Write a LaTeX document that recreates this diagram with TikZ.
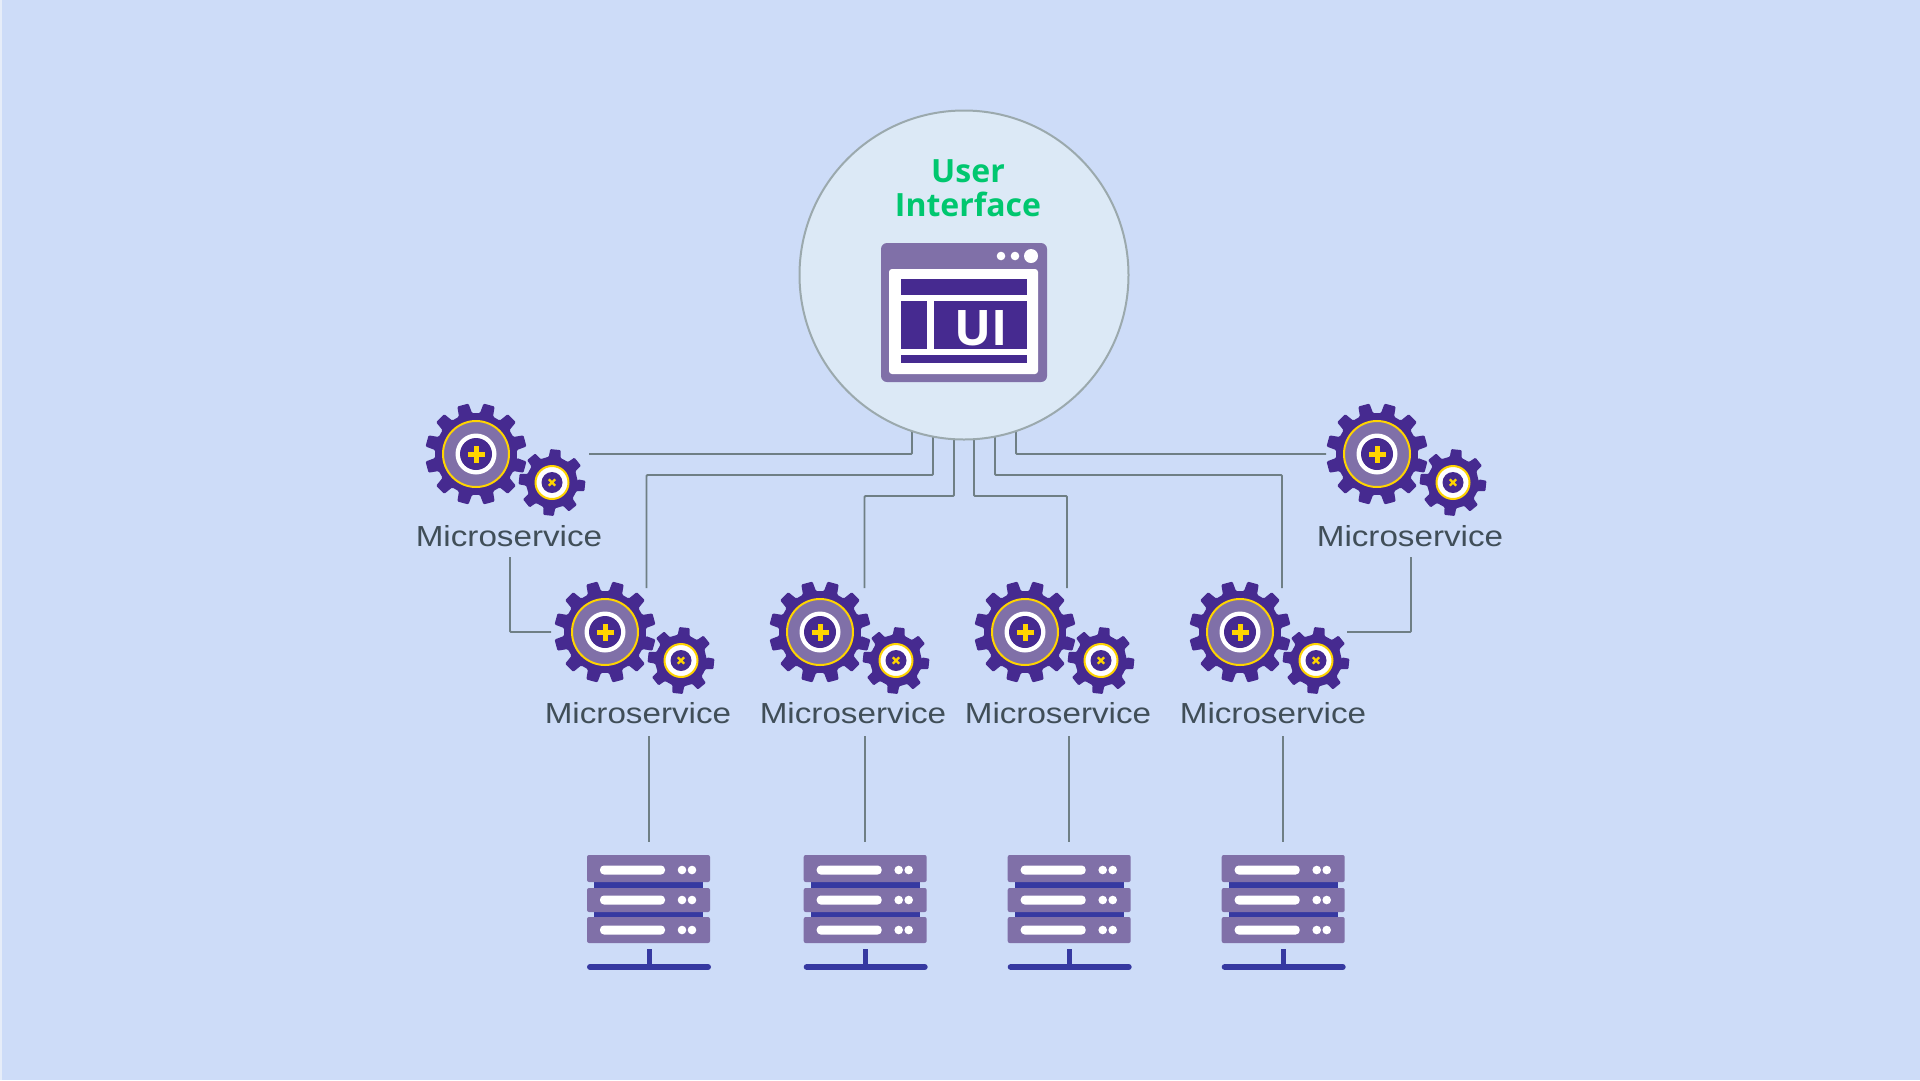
\documentclass[tikz,border=0pt]{standalone}
\usepackage{fontspec}
\usetikzlibrary{calc,backgrounds}
\newfontfamily\titlefont{Open Sans}
\newfontfamily\labelfont[FakeStretch=1.145]{Liberation Sans}
\definecolor{pagebg}{HTML}{CDDCF8}
\definecolor{edgebg}{HTML}{E6EDF9}
\definecolor{discbg}{HTML}{DCE9F6}
\definecolor{discline}{HTML}{9BA9AD}
\definecolor{wirecol}{HTML}{6F7F85}
\definecolor{deep}{HTML}{462A90}
\definecolor{muted}{HTML}{8070A8}
\definecolor{sun}{HTML}{FFD400}
\definecolor{mint}{HTML}{00C76F}
\definecolor{ink}{HTML}{404E58}
\definecolor{railblue}{HTML}{2F3FA8}
\tikzset{
  wire/.style={draw=wirecol,line width=1.8pt,rounded corners=1pt},
  mslabel/.style={font=\labelfont\fontsize{29}{29}\selectfont,text=ink,anchor=base,inner sep=0pt},
}
\newcommand{\gearpair}[3]{%
  \begin{scope}[shift={(#2,#3)}]
    \fill[deep,rounded corners=1.2pt] (6:41)
      \foreach \a in {15,45,...,345} { -- (\a-9.5:41) -- (\a-6.5:51) -- (\a+6.5:51) -- (\a+9.5:41) } -- cycle;
    \fill[muted,draw=sun,line width=2pt] (0,0) circle (33);
    \fill[white] (0,0) circle (20.5);
    \fill[deep] (0,0) circle (16);
    \fill[sun] (-8.5,-2.5) rectangle (8.5,2.5);
    \fill[sun] (-2.5,-8.5) rectangle (2.5,8.5);
    \begin{scope}[shift={(76,28.5)}]
      \fill[deep,rounded corners=1pt] (0:26)
        \foreach \a in {6,51,...,321} { -- (\a-13:26) -- (\a-9:33.5) -- (\a+9:33.5) -- (\a+13:26) } -- cycle;
      \fill[white,draw=sun,line width=2pt] (0,0) circle (16.5);
      \fill[deep] (0,0) circle (10.5);
      \draw[sun,line width=2.2pt] (-3.2,-3.2) -- (3.2,3.2) (-3.2,3.2) -- (3.2,-3.2);
    \end{scope}
    \coordinate (#1) at (0,0);
  \end{scope}}
\newcommand{\serverstack}[2]{%
  \begin{scope}[shift={(#2,0)}]
    \fill[railblue!70!deep] (-55,882) rectangle (54,888);
    \fill[railblue!70!deep] (-55,911) rectangle (54,917);
    \fill[muted,rounded corners=2pt] (-62,855) rectangle (61,882);
    \fill[muted,rounded corners=2pt] (-62,888) rectangle (61,912);
    \fill[muted,rounded corners=2pt] (-62,917) rectangle (61,943);
    \foreach \yy in {870,900,930} {
      \fill[white,rounded corners=4pt] (-49,\yy-4.5) rectangle (16,\yy+4.5);
      \fill[white] (33,\yy) circle (4.3);
      \fill[white] (43,\yy) circle (4.3);
    }
    \fill[railblue!70!deep] (-2.5,949) rectangle (2.5,965);
    \draw[railblue!70!deep,line width=6pt,line cap=round] (-59,967) -- (59,967);
    \coordinate (#1) at (0,842);
  \end{scope}}
\begin{document}
\begin{tikzpicture}[x=1pt,y=-1pt]
  \useasboundingbox (0,0) rectangle (1920,1080);
  \node[circle,fill=discbg,draw=discline,line width=2pt,minimum size=329pt,inner sep=0pt] (ui) at (964,275) {};

  % microservices
  \gearpair{g1}{476}{454}
  \gearpair{g2}{605}{632}
  \gearpair{g3}{820}{632}
  \gearpair{g4}{1025}{632}
  \gearpair{g5}{1240}{632}
  \gearpair{g6}{1377}{454}
  \node[mslabel] (m1) at (509,546) {Microservice};
  \node[mslabel] (m2) at (638,723) {Microservice};
  \node[mslabel] (m3) at (853,723) {Microservice};
  \node[mslabel] (m4) at (1058,723) {Microservice};
  \node[mslabel] (m5) at (1273,723) {Microservice};
  \node[mslabel] (m6) at (1410,546) {Microservice};

  % servers
  \serverstack{s1}{649}
  \serverstack{s2}{865.7}
  \serverstack{s3}{1069.7}
  \serverstack{s4}{1283.7}

  % title
  \node[font=\titlefont\bfseries\fontsize{32}{34}\selectfont,text=mint,align=center,inner sep=0pt] (title) at (968,188) {User\\Interface};

  % window icon
  \fill[muted,rounded corners=6pt] (881,243) rectangle (1047,382);
  \fill[white,rounded corners=3pt] (889,269) rectangle (1038,374);
  \fill[deep] (901,279) rectangle (1027,295);
  \fill[deep] (901,301) rectangle (927,349);
  \fill[deep] (934,301) rectangle (1027,349);
  \fill[deep] (901,355) rectangle (1027,363);
  \fill[white] (1001,256) circle (4.3);
  \fill[white] (1015,256) circle (4.3);
  \fill[white] (1031,256) circle (7);
  \node[font=\titlefont\bfseries\fontsize{49}{49}\selectfont,text=white,inner sep=0pt,anchor=base] (uitext) at (981,345) {UI};

  % connectors
  \begin{pgfonlayer}{background}
    \fill[pagebg] (0,0) rectangle (1920,1080);
    \fill[edgebg] (0,0) rectangle (2,1080);
    \coordinate (t1) at (912,400);
    \coordinate (t2) at (933,400);
    \coordinate (t3) at (954,400);
    \coordinate (t4) at (974,400);
    \coordinate (t5) at (995,400);
    \coordinate (t6) at (1016,400);
    \coordinate (e1) at (589,454);
    \coordinate (e2) at (646.5,588);
    \coordinate (e3) at (864.5,588);
    \coordinate (e4) at (1067,588);
    \coordinate (e5) at (1282,588);
    \coordinate (e6) at (1326,454);
    \coordinate (busA) at (0,475);
    \coordinate (busB) at (0,496);
    \draw[wire] (t1) |- (e1);
    \draw[wire] (t2) -- (t2 |- busA) -- (e2 |- busA) -- (e2);
    \draw[wire] (t3) -- (t3 |- busB) -- (e3 |- busB) -- (e3);
    \draw[wire] (t4) -- (t4 |- busB) -- (e4 |- busB) -- (e4);
    \draw[wire] (t5) -- (t5 |- busA) -- (e5 |- busA) -- (e5);
    \draw[wire] (t6) |- (e6);
    \coordinate (l1) at (510,557);
    \coordinate (l2) at (551,632);
    \draw[wire] (l1) |- (l2);
    \coordinate (r1) at (1411,557);
    \coordinate (r2) at (1347,632);
    \draw[wire] (r1) |- (r2);
    \coordinate (d1) at (649,736);
    \coordinate (d2) at (865,736);
    \coordinate (d3) at (1069,736);
    \coordinate (d4) at (1283,736);
    \draw[wire] (d1) -- (d1 |- s1);
    \draw[wire] (d2) -- (d2 |- s2);
    \draw[wire] (d3) -- (d3 |- s3);
    \draw[wire] (d4) -- (d4 |- s4);
  \end{pgfonlayer}
\end{tikzpicture}
\end{document}
